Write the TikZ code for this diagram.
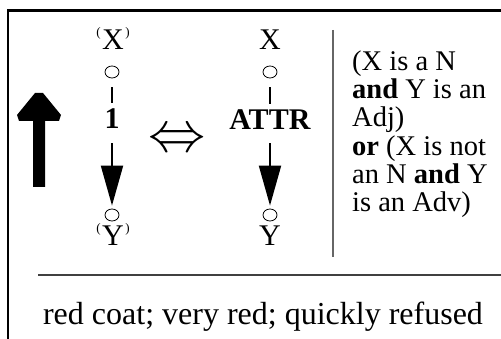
\documentclass[tikz,border=0pt]{standalone}
\usepackage{fontspec}
\setmainfont{Liberation Serif}
\usepackage{graphicx}
\usetikzlibrary{shapes.geometric,arrows.meta}
\newcommand{\smlp}{\raisebox{13pt}{\fontsize{13}{13}\selectfont(}\kern1.5pt}
\newcommand{\smrp}{\kern1.5pt\raisebox{13pt}{\fontsize{13}{13}\selectfont)}}
\begin{document}
\begin{tikzpicture}[x=1pt,y=-1pt,
  font=\fontsize{30}{30}\selectfont,
  lbl/.style={inner sep=0pt, anchor=base},
  bub/.style={draw, ellipse, line width=0.8pt, minimum width=14pt, minimum height=12pt, inner sep=0pt},
  tick/.style={line width=2pt},
  dep/.style={line width=2pt, -{Triangle[length=40pt,width=22pt]}},
  sep/.style={draw=black!60, line width=1.3pt}]
\useasboundingbox (0,0) rectangle (501,339);
% frame
\draw[line width=2.5pt] (8,341) -- (8,10.5) -- (503,10.5);
% big arrow
\fill (33,187) -- (33,121) -- (19,121) -- (17,115) -- (35,93) -- (43,93) -- (61,115) -- (59,121) -- (45,121) -- (45,187) -- cycle;
% left column
\node[lbl] (x1) at (113,50) {\smlp X\smrp};
\node[bub] (c1) at (112,72) {};
\node[lbl] (r1) at (112,129) {\textbf{1}};
\node[bub] (d1) at (112,215) {};
\node[lbl] (y1) at (113,246) {\smlp Y\smrp};
\draw[tick, shorten <=9pt, shorten >=6pt] (c1) -- (r1);
\draw[dep, shorten <=14pt, shorten >=3pt] (r1) -- (d1);
% equivalence
\node[inner sep=0pt] (eq) at (177.5,141) {\scalebox{2.3}{$\Leftrightarrow$}};
% middle column
\node[lbl] (x2) at (270,50) {X};
\node[bub] (c2) at (270,72) {};
\node[lbl] (r2) at (270,130) {\textbf{ATTR}};
\node[bub] (d2) at (270,215) {};
\node[lbl] (y2) at (270,246) {Y};
\draw[tick, shorten <=9pt, shorten >=6pt] (c2) -- (r2);
\draw[dep, shorten <=13pt, shorten >=3pt] (r2) -- (d2);
% separators
\draw[sep] (333,30) -- (333,257);
\draw[sep, draw=black!75, line width=1.2pt] (38,275) -- (503,275);
% condition
\node[inner sep=0pt, anchor=base west, align=left, font=\fontsize{28.5}{28.4}\selectfont] (cond) at (352,212)
  {(X is a N\\ \textbf{and} Y is an\\ Adj)\\ \textbf{or} (X is not\\ an N \textbf{and} Y\\ is an Adv)};
% example
\node[lbl, font=\fontsize{32}{32}\selectfont] (ex) at (263,324) {red coat; very red; quickly refused};
\end{tikzpicture}
\end{document}
